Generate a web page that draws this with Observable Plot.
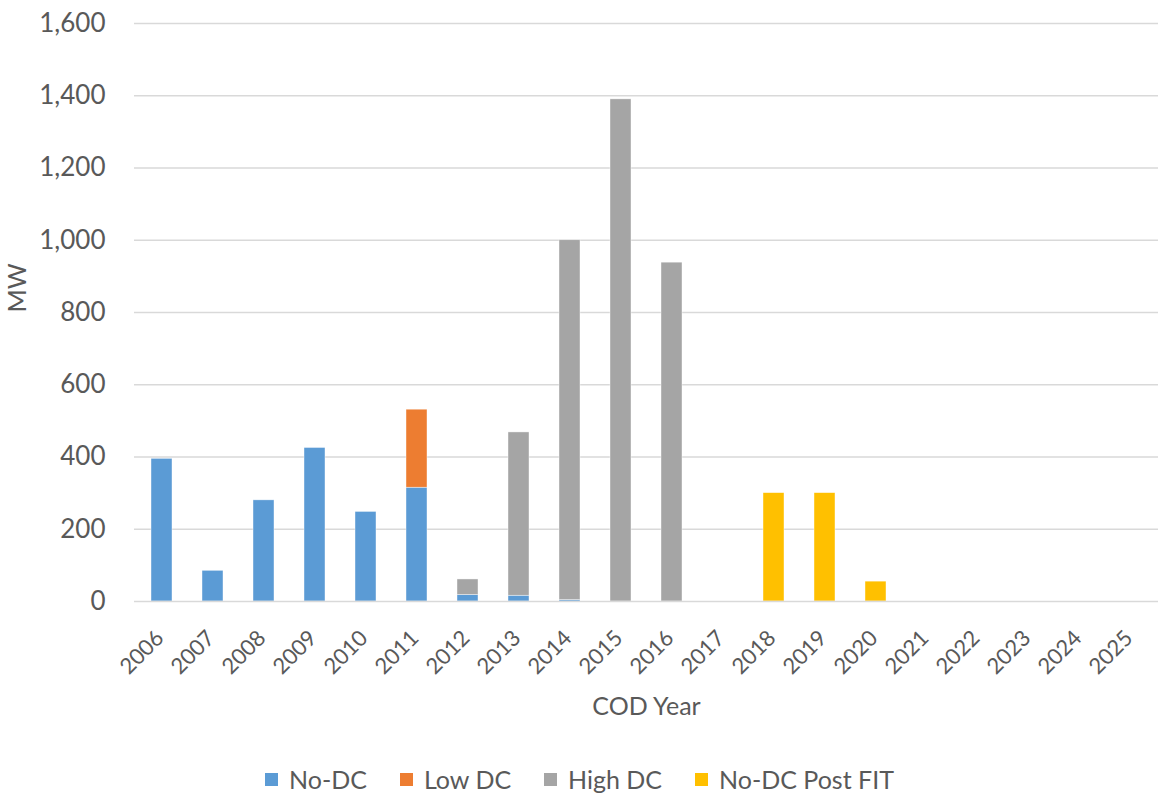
<!DOCTYPE html>
<html>
<head>
<meta charset="utf-8">
<script src="https://cdn.jsdelivr.net/npm/d3@7"></script>
<script src="https://cdn.jsdelivr.net/npm/@observablehq/plot@0.6"></script>
<style>
  html, body { margin: 0; padding: 0; background: #fff; }
  #chart { width: 1159px; }
  .legend {
    display: flex; justify-content: center; align-items: center; gap: 33px;
    font-family: Lato, "Liberation Sans", sans-serif; font-size: 25px; color: #595959;
    margin-top: 14px; line-height: 30px; width: 1159px;
  }
  .legend span.item { display: flex; align-items: center; }
  .legend span.sw { display: inline-block; width: 13px; height: 13px; margin-right: 11px; }
</style>
</head>
<body>
<div id="chart"></div>
<script>
// Commercial operation year and MW by contract type
const years = ["2006","2007","2008","2009","2010","2011","2012","2013","2014","2015",
               "2016","2017","2018","2019","2020","2021","2022","2023","2024","2025"];
const noDC        = [395, 85, 280, 425, 248, 315, 18, 16, 4, 0, 0, 0, 0, 0, 0, 0, 0, 0, 0, 0];
const lowDC       = [0, 0, 0, 0, 0, 216, 0, 0, 0, 0, 0, 0, 0, 0, 0, 0, 0, 0, 0, 0];
const highDC      = [0, 0, 0, 0, 0, 0, 43, 452, 996, 1390, 938, 0, 0, 0, 0, 0, 0, 0, 0, 0];
const noDCPostFIT = [0, 0, 0, 0, 0, 0, 0, 0, 0, 0, 0, 0, 300, 300, 55, 0, 0, 0, 0, 0];

const seriesNames  = ["No-DC", "Low DC", "High DC", "No-DC Post FIT"];
const seriesColors = ["#5b9bd5", "#ed7d31", "#a5a5a5", "#ffc000"];
const yTicks = [0, 200, 400, 600, 800, 1000, 1200, 1400, 1600];
const xTitle = "COD Year";
const yTitle = "MW";

const seriesValues = [noDC, lowDC, highDC, noDCPostFIT];
const rows = [];
seriesNames.forEach((name, s) => {
  years.forEach((year, i) => rows.push({year, series: name, mw: seriesValues[s][i]}));
});

const chart = Plot.plot({
  width: 1159,
  height: 750,
  marginLeft: 134,
  marginRight: 1,
  marginTop: 23,
  marginBottom: 149,
  style: {fontFamily: "Lato, 'Liberation Sans', sans-serif", fontSize: "24px", color: "#595959", background: "#fff"},
  x: {domain: years, paddingInner: 0.59, paddingOuter: 0.295},
  y: {domain: [0, 1600]},
  color: {domain: seriesNames, range: seriesColors},
  marks: [
    Plot.gridY(yTicks.filter(d => d > 0), {stroke: "#d9d9d9", strokeOpacity: 1, strokeWidth: 1.5}),
    Plot.barY(rows, {x: "year", y: "mw", fill: "series", stroke: "#ffffff", strokeWidth: 0.6, strokeOpacity: 0.7}),
    Plot.ruleY([0], {stroke: "#d9d9d9", strokeWidth: 1.5}),
    Plot.axisY({ticks: yTicks, tickFormat: d3.format(","), tickSize: 0, tickPadding: 29,
      fontSize: 26, label: null}),
    Plot.axisX({tickSize: 0, tickPadding: 33, dx: -2, tickRotate: -45, fontSize: 22, label: null}),
    // axis titles
    Plot.text([xTitle], {frameAnchor: "bottom", dy: 105, lineAnchor: "middle", fontSize: 25, fill: "#595959"}),
    Plot.text([yTitle], {frameAnchor: "left", dx: -117, lineAnchor: "middle", rotate: -90, fontSize: 25, fill: "#595959"})
  ]
});
document.getElementById("chart").appendChild(chart);

// Legend row below the chart
const legend = document.createElement("div");
legend.className = "legend";
seriesNames.forEach((name, i) => {
  const item = document.createElement("span");
  item.className = "item";
  const sw = document.createElement("span");
  sw.className = "sw";
  sw.style.background = seriesColors[i];
  item.appendChild(sw);
  item.appendChild(document.createTextNode(name));
  legend.appendChild(item);
});
document.body.appendChild(legend);
</script>
</body>
</html>
